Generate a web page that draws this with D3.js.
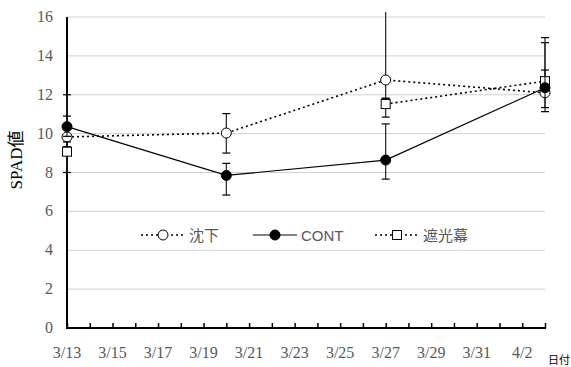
<!DOCTYPE html>
<html>
<head>
<meta charset="utf-8">
<script src="https://cdn.jsdelivr.net/npm/d3@7"></script>
<style>
  body { margin: 0; background: #fff; }
  svg { display: block; }
</style>
</head>
<body>
<div id="root"></div>
<script>
const dates = ["3/13", "3/20", "3/27", "4/3"];
const xTickLabels = ["3/13", "3/15", "3/17", "3/19", "3/21", "3/23", "3/25", "3/27", "3/29", "3/31", "4/2"];
const yTicks = [0, 2, 4, 6, 8, 10, 12, 14, 16];

const seriesNames = ["沈下", "CONT", "遮光幕"];
const chinka = [9.83, 10.03, 12.76, 12.1];
const cont = [10.36, 7.85, 8.64, 12.36];
const shako = [9.07, null, 11.52, 12.7];

// error bars: upper / lower amounts
const chinkaPlus = [2.17, 1.0, 3.9, 2.58];
const chinkaMinus = [0.5, 1.03, 0.95, 0.97];
const contPlus = [0.54, 0.62, 1.86, 0.91];
const contMinus = [0.5, 1.01, 0.98, 1.02];
const shakoPlus = [0.5, null, 0.3, 2.24];
const shakoMinus = [1.07, null, 0.67, 0.45];

const width = 571, height = 367;
const parse = s => { const [m, d] = s.split("/").map(Number); return new Date(2019, m - 1, d); };

const x = d3.scaleTime()
    .domain([parse("3/13"), parse("4/3")])
    .range([67, 545]);
const y = d3.scaleLinear()
    .domain([0, 16])
    .range([328, 17]);

const svg = d3.select("#root").append("svg")
    .attr("width", width)
    .attr("height", height);

svg.append("defs").append("clipPath").attr("id", "plot")
  .append("rect").attr("x", 55).attr("y", 12).attr("width", 510).attr("height", 330);

// gridlines
svg.append("g")
  .selectAll("line")
  .data(yTicks.filter(d => d > 0))
  .join("line")
    .attr("x1", 67).attr("x2", 545)
    .attr("y1", d => y(d)).attr("y2", d => y(d))
    .attr("stroke", "#d0d0d0")
    .attr("stroke-width", 1);

// y tick labels
svg.append("g")
  .selectAll("text")
  .data(yTicks)
  .join("text")
    .attr("x", 53)
    .attr("y", d => y(d) + 5)
    .attr("text-anchor", "end")
    .style("font-family", "'Liberation Serif', serif")
    .style("font-size", "16px")
    .style("fill", "#595959")
    .text(d => d);

// x axis
const xAxis = d3.axisBottom(x)
    .ticks(d3.timeDay.every(1))
    .tickSize(-5)
    .tickFormat("");
const xg = svg.append("g")
    .attr("transform", `translate(0,${y(0)})`)
    .call(xAxis);
xg.select(".domain").attr("stroke", "#000").attr("stroke-width", 2).attr("d", `M66,0H546`);
xg.selectAll(".tick line").attr("stroke", "#000").attr("stroke-width", 1.5);

svg.append("g")
  .selectAll("text")
  .data(xTickLabels)
  .join("text")
    .attr("x", d => x(parse(d)))
    .attr("y", 358)
    .attr("text-anchor", "middle")
    .style("font-family", "'Liberation Serif', serif")
    .style("font-size", "16px")
    .style("fill", "#595959")
    .text(d => d);

// y axis line
svg.append("line")
    .attr("x1", 67).attr("x2", 67)
    .attr("y1", y(16)).attr("y2", y(0) + 1)
    .attr("stroke", "#000").attr("stroke-width", 2);

// axis titles
svg.append("text")
    .attr("transform", `translate(22,160) rotate(-90)`)
    .attr("text-anchor", "middle")
    .style("font-family", "'Liberation Serif', 'Noto Sans CJK JP', serif")
    .style("font-size", "17px")
    .style("fill", "#000")
    .text("SPAD値");

svg.append("text")
    .attr("x", 548).attr("y", 364)
    .style("font-family", "'Noto Sans CJK JP', sans-serif")
    .style("font-size", "11px")
    .style("fill", "#000")
    .text("日付");

const series = [
  { name: seriesNames[0], values: chinka, plus: chinkaPlus, minus: chinkaMinus, marker: "open", dash: "2,3" },
  { name: seriesNames[2], values: shako, plus: shakoPlus, minus: shakoMinus, marker: "square", dash: "2,3" },
  { name: seriesNames[1], values: cont, plus: contPlus, minus: contMinus, marker: "filled", dash: null }
];

const plot = svg.append("g");

function drawMarker(g, kind, cx, cy) {
  if (kind === "square") {
    g.append("rect")
      .attr("x", cx - 4.5).attr("y", cy - 4.5)
      .attr("width", 9).attr("height", 9)
      .attr("fill", "#fff").attr("stroke", "#000").attr("stroke-width", 1);
  } else {
    g.append("circle")
      .attr("cx", cx).attr("cy", cy).attr("r", 5)
      .attr("fill", kind === "filled" ? "#000" : "#fff")
      .attr("stroke", "#000").attr("stroke-width", 1);
  }
}

series.forEach(s => {
  const pts = dates.map((d, i) => ({ date: parse(d), v: s.values[i], p: s.plus[i], m: s.minus[i] }));
  const g = plot.append("g");

  const line = d3.line()
      .defined(d => d.v != null)
      .x(d => x(d.date))
      .y(d => y(d.v));

  g.append("path")
      .datum(pts)
      .attr("d", line)
      .attr("fill", "none")
      .attr("stroke", "#000")
      .attr("stroke-width", s.dash ? 1.6 : 1.2)
      .attr("stroke-dasharray", s.dash);

  const eb = g.append("g").attr("clip-path", "url(#plot)");
  pts.filter(d => d.v != null).forEach(d => {
    const cx = x(d.date);
    const top = y(d.v + d.p), bot = y(d.v - d.m);
    eb.append("line")
      .attr("x1", cx).attr("x2", cx)
      .attr("y1", top).attr("y2", bot)
      .attr("stroke", "#222").attr("stroke-width", 1.2);
    [top, bot].forEach(yy => {
      eb.append("line")
        .attr("x1", cx - 4).attr("x2", cx + 4)
        .attr("y1", yy).attr("y2", yy)
        .attr("stroke", "#000").attr("stroke-width", 1.2);
    });
  });

  pts.filter(d => d.v != null).forEach(d => drawMarker(g, s.marker, x(d.date), y(d.v)));
});

// legend
const legendItems = [
  { name: seriesNames[0], marker: "open", dash: "2,3", x0: 141, font: "'Noto Sans CJK JP', sans-serif" },
  { name: seriesNames[1], marker: "filled", dash: null, x0: 253, font: "'Liberation Sans', Arial, sans-serif" },
  { name: seriesNames[2], marker: "square", dash: "2,3", x0: 375, font: "'Noto Sans CJK JP', sans-serif" }
];
const ly = 235;
const legend = svg.append("g");
legendItems.forEach(it => {
  const g = legend.append("g");
  g.append("line")
    .attr("x1", it.x0).attr("x2", it.x0 + 44)
    .attr("y1", ly).attr("y2", ly)
    .attr("stroke", it.dash ? "#000" : "#595959")
    .attr("stroke-width", it.dash ? 1.3 : 1.5)
    .attr("stroke-dasharray", it.dash);
  drawMarker(g, it.marker, it.x0 + 22, ly);
  g.append("text")
    .attr("x", it.x0 + 48).attr("y", ly + 5.5)
    .style("font-family", it.font)
    .style("font-size", "15px")
    .style("fill", "#595959")
    .text(it.name);
});
</script>
</body>
</html>
